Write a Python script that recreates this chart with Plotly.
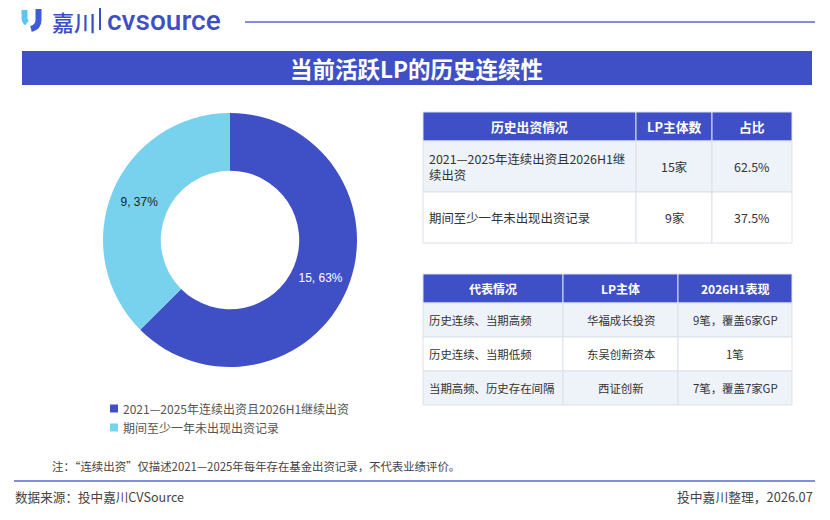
import plotly.graph_objects as go

# the page body adds an 8px margin, so the figure is drawn 8px smaller and
# reference pixel positions are shifted by that offset
OFF = 8
W, H = 830 - OFF, 520 - OFF
BLUE = '#3F4FC6'
CYAN = '#78D2EE'
GRID = '#DCE1EC'
STRIPE = '#EEF2F9'
FONT = 'Noto Sans CJK SC'

# donut data
pie_labels = ['2021—2025年连续出资且2026H1继续出资', '期间至少一年未出现出资记录']
pie_values = [15, 9]
pie_pct_text = ['63%', '37%']
pie_colors = [BLUE, CYAN]

# table 1
t1_headers = ['历史出资情况', 'LP主体数', '占比']
t1_case = ['2021—2025年连续出资且2026H1继<br>续出资', '期间至少一年未出现出资记录']
t1_count = ['15家', '9家']
t1_share = ['62.5%', '37.5%']

# table 2
t2_headers = ['代表情况', 'LP主体', '2026H1表现']
t2_case = ['历史连续、当期高频', '历史连续、当期低频', '当期高频、历史存在间隔']
t2_lp = ['华福成长投资', '东吴创新资本', '西证创新']
t2_perf = ['9笔，覆盖6家GP', '1笔', '7笔，覆盖7家GP']


def px_x(v):
    return (v - OFF) / W


def px_y(v):
    return 1 - (v - OFF) / H


def rect(x0, y0, x1, y1, fill, line=None):
    return dict(type='rect', xref='paper', yref='paper',
                x0=px_x(x0), x1=px_x(x1), y0=px_y(y1), y1=px_y(y0),
                fillcolor=fill, layer='below',
                line=dict(color=line, width=1) if line else dict(width=0))


def label(text, x, y, size, color='#333333', xanchor='center', align='center',
          family=FONT, weight='normal'):
    return dict(text=text, x=px_x(x), y=px_y(y), xref='paper', yref='paper',
                xanchor=xanchor, yanchor='middle', align=align, showarrow=False,
                font=dict(size=size, color=color, family=family, weight=weight))


def draw_table(x0, y0, colw, head_h, row_h, headers, columns, head_size, cell_size):
    shapes, annots = [], []
    xs = [x0]
    for w in colw:
        xs.append(xs[-1] + w)
    for j, h in enumerate(headers):
        shapes.append(rect(xs[j], y0, xs[j + 1], y0 + head_h, BLUE, GRID))
        annots.append(label('<b>%s</b>' % h, (xs[j] + xs[j + 1]) / 2,
                            y0 + head_h / 2, head_size, 'white'))
    nrows = len(columns[0])
    for i in range(nrows):
        top = y0 + head_h + i * row_h
        fill = STRIPE if i % 2 == 0 else 'white'
        for j, col in enumerate(columns):
            shapes.append(rect(xs[j], top, xs[j + 1], top + row_h, fill, GRID))
            if j == 0:
                annots.append(label(col[i], xs[j] + 4, top + row_h / 2, cell_size,
                                    xanchor='left', align='left'))
            else:
                annots.append(label(col[i], (xs[j] + xs[j + 1]) / 2,
                                    top + row_h / 2, cell_size))
    return shapes, annots


fig = go.Figure()

fig.add_trace(go.Pie(
    labels=pie_labels,
    values=pie_values,
    customdata=pie_pct_text,
    texttemplate='%{value}, %{customdata}',
    textposition='inside',
    insidetextorientation='horizontal',
    hole=0.545,
    sort=False,
    direction='clockwise',
    rotation=0,
    marker=dict(colors=pie_colors, line=dict(width=0)),
    insidetextfont=dict(color=['white', '#222222'], size=12, family='Liberation Sans'),
    domain=dict(x=[px_x(103), px_x(357)], y=[px_y(367), px_y(113)]),
    hoverinfo='skip',
    showlegend=False,
))

shapes = [
    # rule next to logo
    dict(type='line', xref='paper', yref='paper', x0=px_x(245), x1=px_x(815),
         y0=px_y(22), y1=px_y(22), line=dict(color='#5A68C8', width=1.5)),
    # logo strokes
    dict(type='path', xref='paper', yref='paper',
         path='M %f %f L %f %f Q %f %f %f %f' % (px_x(24.5), px_y(10), px_x(24.5), px_y(18),
                                                 px_x(24.5), px_y(21), px_x(27), px_y(23)),
         line=dict(color='#5CC6F2', width=6)),
    dict(type='path', xref='paper', yref='paper',
         path='M %f %f L %f %f Q %f %f %f %f' % (px_x(38.5), px_y(9), px_x(38.5), px_y(20),
                                                 px_x(38.5), px_y(27), px_x(31), px_y(29)),
         line=dict(color='#3E5BD9', width=6)),
    # separator bar inside logo
    dict(type='line', xref='paper', yref='paper', x0=px_x(100), x1=px_x(100),
         y0=px_y(8), y1=px_y(30), line=dict(color='#3D4FC4', width=2)),
    # title banner
    rect(22, 51, 812, 85, BLUE),
    # footer rule
    dict(type='line', xref='paper', yref='paper', x0=px_x(14), x1=px_x(815),
         y0=px_y(481), y1=px_y(481), line=dict(color='#5A68C8', width=1.5)),
]

annotations = [
    label('嘉川', 50, 21, 22, '#3D4FC4', xanchor='left', weight=500),
    label('cvsource', 105, 20.5, 28, '#3D4FC4', xanchor='left',
          family='Roboto', weight=500),
    label('<b>当前活跃LP的历史连续性</b>', 416, 68, 22.5, 'white'),
    label('注：“连续出资”仅描述2021—2025年每年存在基金出资记录，不代表业绩评价。',
          50, 466, 11.4, '#444444', xanchor='left'),
    label('数据来源：投中嘉川CVSource', 13, 496, 12.6, '#444444', xanchor='left'),
    dict(text='投中嘉川整理，2026.07', x=px_x(815), y=px_y(496), xref='paper',
         yref='paper', showarrow=False, xanchor='right', yanchor='middle',
         font=dict(size=12.8, color='#444444', family=FONT)),
]

# legend for the donut
for k, (name, color) in enumerate(zip(pie_labels, pie_colors)):
    cy = 408.5 + k * 19
    shapes.append(rect(110, cy - 4, 118, cy + 4, color))
    annotations.append(label(name, 121, cy, 12, '#555555', xanchor='left'))

s1, a1 = draw_table(423, 112, [213, 76, 80], 29, 51, t1_headers,
                    [t1_case, t1_count, t1_share], 12.8, 12.4)
s2, a2 = draw_table(423, 274, [140, 115, 114], 29, 34, t2_headers,
                    [t2_case, t2_lp, t2_perf], 12, 11.4)
shapes += s1 + s2
annotations += a1 + a2

fig.update_layout(
    width=W,
    height=H,
    autosize=False,
    margin=dict(l=0, r=0, t=0, b=0),
    paper_bgcolor='white',
    plot_bgcolor='white',
    shapes=shapes,
    annotations=annotations,
    showlegend=False,
)

fig.write_html('out.html')
